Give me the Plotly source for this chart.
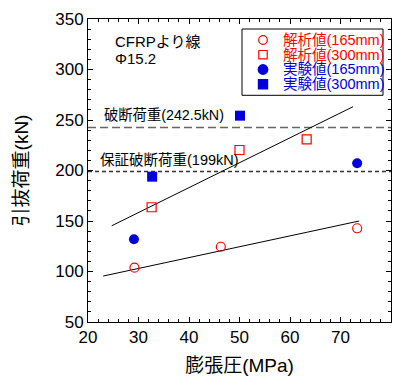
import plotly.graph_objects as go

# Analysis values (open markers)
calc165_x = [29.2, 46.3, 73.3]
calc165_y = [103.8, 124.5, 142.8]
calc300_x = [32.6, 50.0, 63.3]
calc300_y = [163.6, 220.3, 230.9]

# Test values (filled markers)
test165_x = [29.1, 73.3]
test165_y = [131.9, 207.1]
test300_x = [32.7, 50.1]
test300_y = [193.9, 254.3]

# Trend lines (end points)
trend_upper_x = [24.7, 72.5]
trend_upper_y = [145.3, 263.2]
trend_lower_x = [23.0, 73.7]
trend_lower_y = [95.5, 150.0]

# Reference load levels (kN)
break_load = 242.5
guaranteed_load = 199

# Legend labels
legend_labels = ["解析値(165mm)", "解析値(300mm)", "実験値(165mm)", "実験値(300mm)"]

FONT = "Liberation Sans, Arial, Noto Sans CJK JP, sans-serif"
RED = "#ff0000"
BLUE = "#0000dd"

# plot-area geometry in pixels (used to place the boxed key in paper units)
PLOT_L, PLOT_R, PLOT_T, PLOT_B = 88, 391, 19, 322


def px(p):
    return (p - PLOT_L) / (PLOT_R - PLOT_L)


def py(p):
    return (PLOT_B - p) / (PLOT_B - PLOT_T)


fig = go.Figure()

fig.add_trace(go.Scatter(x=trend_upper_x, y=trend_upper_y, mode="lines",
                         line=dict(color="black", width=1), hoverinfo="skip"))
fig.add_trace(go.Scatter(x=trend_lower_x, y=trend_lower_y, mode="lines",
                         line=dict(color="black", width=1), hoverinfo="skip"))

fig.add_trace(go.Scatter(
    x=calc165_x, y=calc165_y, mode="markers", name=legend_labels[0],
    marker=dict(symbol="circle-open", size=9, color=RED, line=dict(width=1.2))))
fig.add_trace(go.Scatter(
    x=calc300_x, y=calc300_y, mode="markers", name=legend_labels[1],
    marker=dict(symbol="square-open", size=9, color=RED, line=dict(width=1.2))))
fig.add_trace(go.Scatter(
    x=test165_x, y=test165_y, mode="markers", name=legend_labels[2],
    marker=dict(symbol="circle", size=10, color=BLUE)))
fig.add_trace(go.Scatter(
    x=test300_x, y=test300_y, mode="markers", name=legend_labels[3],
    marker=dict(symbol="square", size=10, color=BLUE)))

fig.add_hline(y=break_load, line=dict(color="#666666", width=1.5, dash="8px,4px"),
              layer="below")
fig.add_hline(y=guaranteed_load, line=dict(color="#333333", width=1.5, dash="4px,3px"),
              layer="below")

fig.add_annotation(x=22.7, y=254.5, xref="x", yref="y", xanchor="left", yanchor="middle",
                   text=f"破断荷重({break_load}kN)", showarrow=False,
                   font=dict(size=14.3, color="black", family=FONT))
fig.add_annotation(x=22.0, y=210.4, xref="x", yref="y", xanchor="left", yanchor="middle",
                   text=f"保証破断荷重({guaranteed_load}kN)", showarrow=False,
                   font=dict(size=14.5, color="black", family=FONT))
fig.add_annotation(x=px(113), y=py(41), xref="paper", yref="paper",
                   xanchor="left", yanchor="middle", text="CFRPより線", showarrow=False,
                   font=dict(size=15, color="black", family=FONT))
fig.add_annotation(x=px(113), y=py(58), xref="paper", yref="paper",
                   xanchor="left", yanchor="middle", text="Φ15.2", showarrow=False,
                   font=dict(size=15, color="black", family=FONT))

# Boxed key with compact rows
fig.add_shape(type="rect", xref="paper", yref="paper",
              x0=px(242), x1=px(383), y0=py(95.3), y1=py(29),
              line=dict(color="black", width=1), fillcolor="white", layer="above")
row_y = [40, 54.7, 69.5, 84.3]
key_styles = [
    dict(kind="circle", fill=False, color=RED, r=4.3),
    dict(kind="rect", fill=False, color=RED, r=4.2),
    dict(kind="circle", fill=True, color=BLUE, r=4.8),
    dict(kind="rect", fill=True, color=BLUE, r=4.6),
]
for yy, st in zip(row_y, key_styles):
    fig.add_shape(type=st["kind"], xref="paper", yref="paper",
                  xsizemode="pixel", ysizemode="pixel",
                  xanchor=px(263), yanchor=py(yy),
                  x0=-st["r"], x1=st["r"], y0=-st["r"], y1=st["r"],
                  line=dict(color=st["color"], width=1.2),
                  fillcolor=st["color"] if st["fill"] else "rgba(0,0,0,0)",
                  layer="above")

# key labels as one multi-line text: the small base size sets the row pitch,
# the inline size sets the glyph size
key_text = "<br>".join(
    f"<span style='color:{st['color']};font-size:14.5px'>{label}</span>"
    for label, st in zip(legend_labels, key_styles)
)
fig.add_annotation(x=px(280.5), y=py(sum(row_y) / len(row_y)), xref="paper", yref="paper",
                   xanchor="left", yanchor="middle", align="left", text=key_text,
                   showarrow=False, font=dict(size=11.3, color="black", family=FONT))

axis_common = dict(
    showgrid=False, zeroline=False, showline=True, linecolor="black", linewidth=1,
    mirror="ticks", ticks="inside", ticklen=5, tickwidth=1, tickcolor="black",
    tickfont=dict(size=17, color="black", family=FONT), automargin=False,
)

fig.update_xaxes(range=[20, 80], dtick=10, tick0=20,
                 minor=dict(dtick=2, ticks="inside", ticklen=3, tickcolor="black"),
                 title=dict(text="膨張圧(MPa)", font=dict(size=19, color="black", family=FONT),
                            standoff=14),
                 **axis_common)
fig.update_yaxes(range=[50, 350], dtick=50, tick0=50,
                 minor=dict(dtick=10, ticks="inside", ticklen=3, tickcolor="black"),
                 title=dict(text="引抜荷重(kN)", font=dict(size=19, color="black", family=FONT),
                            standoff=21),
                 **axis_common)

fig.update_layout(
    width=400, height=376,
    margin=dict(l=PLOT_L, r=400 - PLOT_R, t=PLOT_T, b=376 - PLOT_B),
    paper_bgcolor="white", plot_bgcolor="white",
    font=dict(family=FONT, color="black"),
    showlegend=False,
)

fig.write_html("out.html")
